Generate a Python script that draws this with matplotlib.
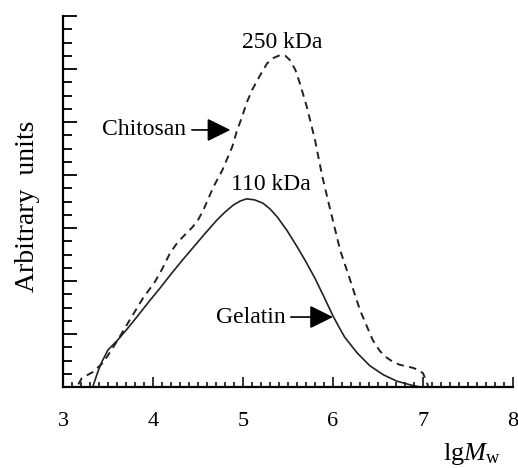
import numpy as np
import matplotlib
matplotlib.use("Agg")
import matplotlib.pyplot as plt
from matplotlib.ticker import MultipleLocator

# === DATOS ===
gel_x = [3.33, 3.36, 3.39, 3.43, 3.50, 3.61, 3.72, 3.82, 3.95, 4.08, 4.20, 4.33,
         4.45, 4.57, 4.71, 4.80, 4.89, 4.97, 5.04, 5.13, 5.22, 5.30, 5.38, 5.49,
         5.60, 5.70, 5.80, 5.90, 6.00, 6.07, 6.13, 6.27, 6.41, 6.56, 6.71, 6.86, 6.97]
gel_y = [0.00, 0.15, 0.30, 0.47, 0.70, 0.89, 1.11, 1.32, 1.60, 1.87, 2.13, 2.40,
         2.64, 2.88, 3.15, 3.30, 3.43, 3.51, 3.55, 3.53, 3.47, 3.36, 3.21, 2.95,
         2.65, 2.36, 2.05, 1.70, 1.34, 1.12, 0.94, 0.64, 0.40, 0.23, 0.11, 0.04, 0.00]

chi_x = [3.17, 3.21, 3.33, 3.44, 3.52, 3.61, 3.74, 3.89, 4.02, 4.10, 4.19, 4.27,
         4.33, 4.39, 4.44, 4.50, 4.56, 4.67, 4.77, 4.88, 4.93, 4.99, 5.04, 5.10,
         5.16, 5.22, 5.27, 5.34, 5.41, 5.47, 5.52, 5.58, 5.63, 5.71, 5.80, 5.88,
         5.97, 6.08, 6.19, 6.30, 6.44, 6.52, 6.60, 6.67, 6.74, 6.82, 6.89, 6.95,
         7.00, 7.04, 7.06]
chi_y = [0.05, 0.17, 0.28, 0.45, 0.65, 0.89, 1.26, 1.68, 1.98, 2.22, 2.53, 2.72,
         2.83, 2.93, 3.02, 3.15, 3.34, 3.77, 4.09, 4.53, 4.82, 5.10, 5.36, 5.60,
         5.79, 5.97, 6.11, 6.21, 6.26, 6.25, 6.17, 5.99, 5.74, 5.28, 4.66, 3.98,
         3.34, 2.58, 2.02, 1.45, 0.89, 0.68, 0.55, 0.47, 0.42, 0.39, 0.36, 0.32,
         0.26, 0.10, 0.00]

x_ticks = [3, 4, 5, 6, 7, 8]

plt.rcParams['font.family'] = ['Liberation Serif', 'DejaVu Serif']
plt.rcParams['mathtext.fontset'] = 'custom'
plt.rcParams['mathtext.rm'] = 'Liberation Serif'
plt.rcParams['mathtext.it'] = 'Liberation Serif:italic'

fig = plt.figure(figsize=(5.18, 4.68), dpi=100)
ax = fig.add_axes([63/518, 1 - 387/468, 450/518, 371/468])

ax.plot(gel_x, gel_y, color='#222222', linewidth=1.2, solid_joinstyle='round')
ax.plot(chi_x, chi_y, color='#222222', linewidth=1.4, linestyle=(0, (3.8, 2.8)))

ax.set_xlim(3, 8)
ax.set_ylim(0, 7)
ax.spines['top'].set_visible(False)
ax.spines['right'].set_visible(False)
ax.spines['left'].set_linewidth(1.6)
ax.spines['bottom'].set_linewidth(1.6)

ax.set_xticks(x_ticks)
ax.xaxis.set_minor_locator(MultipleLocator(0.1))
ax.yaxis.set_major_locator(MultipleLocator(1))
ax.yaxis.set_minor_locator(MultipleLocator(0.25))
ax.tick_params(axis='x', which='major', direction='in', length=7, width=1.1,
               labelsize=16, pad=18)
ax.tick_params(axis='x', which='minor', direction='in', length=3.6, width=1.1)
ax.tick_params(axis='y', which='major', direction='in', length=10, width=1.3,
               labelleft=False)
ax.tick_params(axis='y', which='minor', direction='in', length=6.5, width=1.3)

fig.text(28/518, 1 - 206/468, "Arbitrary  units", rotation=90, fontsize=20,
         ha='center', va='center')
fig.text(472/518, 1 - 454/468, r"$\mathrm{lg}\mathit{M}_\mathrm{w}$", fontsize=19,
         ha='center', va='center')

ax.text(5.43, 6.31, "250 kDa", fontsize=17, ha='center', va='bottom')
ax.text(5.31, 3.62, "110 kDa", fontsize=17, ha='center', va='bottom')

arrow = dict(arrowstyle='-|>,head_length=0.85,head_width=0.42', color='black',
             lw=1.2, shrinkA=2, shrinkB=0)
ax.annotate("Chitosan", xy=(4.86, 4.85), xytext=(4.37, 4.85), fontsize=17,
            ha='right', va='center', arrowprops=arrow)
ax.annotate("Gelatin", xy=(6.0, 1.32), xytext=(5.47, 1.32), fontsize=17,
            ha='right', va='center', arrowprops=arrow)

fig.savefig("out.png", dpi=100)
